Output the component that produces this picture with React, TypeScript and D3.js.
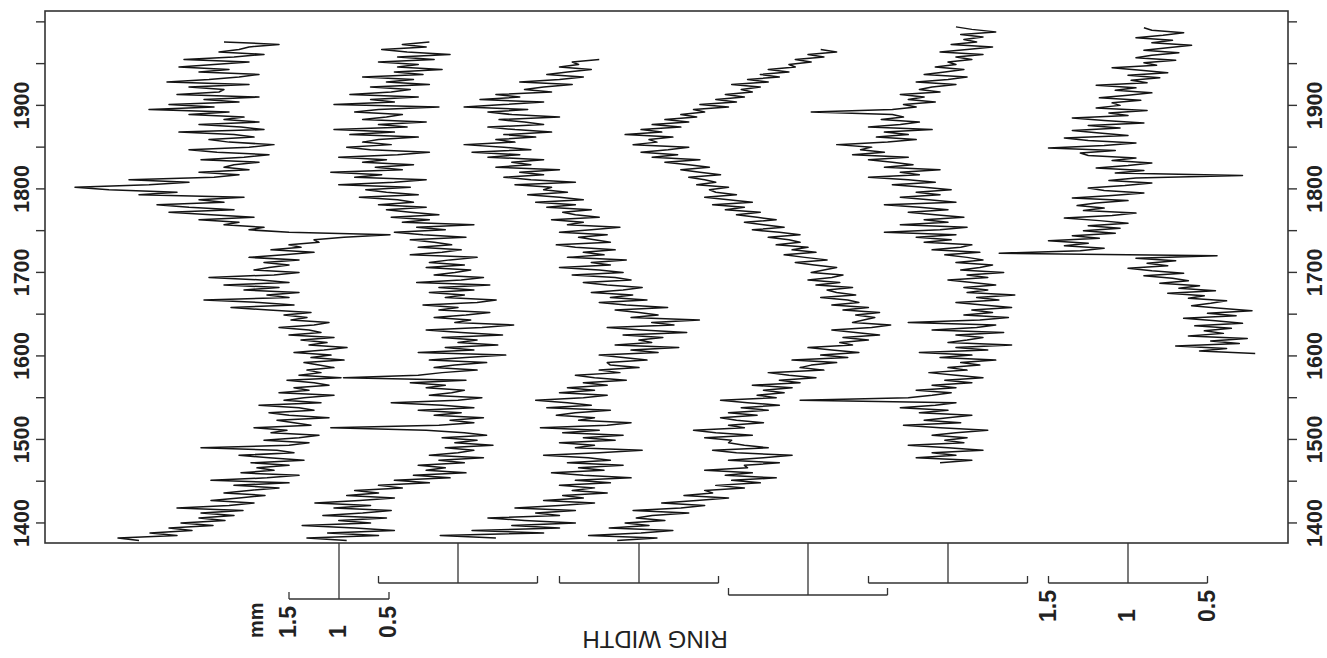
import React from "react";
import * as d3 from "d3";

// ring widths in 0.01 mm, one reading every STEP years
const STEP = 3;

const tree1Start = 1379;
const tree1 = [
  300, 321, 262, 289, 247, 270, 226, 258, 214, 240,
  205, 238, 196, 262, 210, 185, 228, 200, 174, 215,
  190, 160, 205, 150, 228, 172, 140, 198, 165, 182,
  150, 188, 135, 170, 200, 145, 162, 238, 150, 130,
  175, 140, 120, 168, 152, 185, 128, 145, 162, 110,
  150, 170, 125, 140, 180, 118, 155, 135, 105, 160,
  130, 145, 110, 125, 152, 98, 140, 118, 132, 105,
  120, 135, 95, 128, 108, 145, 115, 92, 130, 112,
  138, 105, 150, 118, 130, 160, 125, 110, 148, 132,
  155, 128, 170, 208, 145, 180, 235, 150, 172, 140,
  195, 160, 215, 150, 178, 230, 165, 140, 185, 170,
  150, 175, 140, 190, 155, 125, 168, 138, 150, 120,
  125, 95, 49, 150, 190, 175, 215, 200, 240, 185,
  228, 270, 205, 250, 282, 215, 240, 195, 300, 262,
  330, 364, 290, 250, 310, 225, 200, 240, 190, 215,
  205, 180, 238, 195, 170, 222, 250, 190, 165, 210,
  230, 185, 205, 260, 175, 198, 240, 180, 215, 195,
  250, 210, 290, 225, 270, 200, 235, 180, 262, 220,
  215, 250, 190, 272, 230, 200, 180, 240, 210, 260,
  225, 190, 255, 205, 175, 220, 200, 190, 160, 215,
];

const tree2Start = 1379;
const tree2 = [
  170, 195, 150, 182, 140, 165, 198, 155, 175, 145,
  185, 160, 142, 178, 155, 190, 162, 140, 170, 150,
  165, 135, 150, 118, 140, 105, 128, 95, 120, 108,
  125, 96, 112, 84, 118, 100, 90, 108, 78, 102,
  88, 110, 82, 96, 120, 180, 112, 90, 105, 84,
  115, 98, 125, 90, 110, 142, 100, 85, 118, 104,
  96, 120, 108, 130, 95, 172, 125, 110, 88, 115,
  102, 82, 118, 95, 70, 125, 90, 108, 75, 100,
  88, 110, 72, 98, 120, 85, 65, 102, 92, 115,
  95, 80, 112, 100, 122, 88, 76, 108, 96, 118,
  90, 112, 80, 126, 98, 84, 115, 102, 92, 120,
  96, 118, 105, 88, 130, 110, 98, 125, 104, 115,
  130, 95, 122, 140, 108, 126, 90, 135, 118, 142,
  112, 130, 145, 120, 150, 128, 138, 162, 125, 145,
  158, 130, 175, 140, 120, 165, 148, 180, 135, 152,
  128, 160, 145, 175, 138, 118, 155, 170, 142, 160,
  150, 125, 168, 140, 178, 132, 150, 120, 160, 145,
  135, 165, 150, 112, 178, 140, 155, 125, 168, 142,
  130, 155, 118, 145, 128, 160, 122, 140, 110, 138,
  125, 150, 115, 138, 105, 132, 148, 120, 135, 118,
];

const tree3Start = 1382;
const tree3 = [
  190, 225, 160, 205, 150, 180, 140, 172, 195, 150,
  165, 140, 178, 150, 128, 160, 135, 148, 120, 142,
  128, 150, 118, 140, 105, 135, 155, 122, 138, 110,
  145, 118, 132, 160, 125, 98, 140, 128, 150, 115,
  135, 110, 148, 125, 162, 120, 105, 138, 128, 152,
  140, 118, 158, 130, 145, 165, 135, 120, 150, 128,
  145, 120, 135, 108, 128, 140, 112, 125, 100, 118,
  120, 95, 110, 125, 88, 105, 75, 115, 92, 100,
  85, 110, 70, 98, 120, 78, 92, 62, 105, 88,
  100, 115, 82, 108, 125, 95, 118, 104, 130, 110,
  98, 120, 135, 105, 115, 142, 110, 125, 150, 118,
  130, 108, 145, 122, 135, 115, 140, 152, 118, 128,
  138, 120, 150, 130, 112, 145, 135, 155, 125, 140,
  148, 130, 158, 140, 165, 135, 150, 170, 145, 160,
  155, 178, 140, 168, 185, 160, 175, 150, 190, 168,
  180, 160, 195, 175, 205, 168, 185, 210, 178, 190,
  165, 185, 155, 178, 195, 160, 172, 188, 150, 180,
  195, 170, 210, 185, 160, 200, 175, 190, 155, 172,
  160, 142, 175, 150, 135, 158, 145, 130, 150, 138,
  142, 125,
];

const tree4Start = 1379;
const tree4 = [
  220, 195, 238, 205, 185, 225, 200, 215, 190, 208,
  198, 175, 210, 180, 165, 192, 170, 150, 178, 160,
  165, 140, 158, 130, 148, 120, 152, 135, 165, 138,
  140, 118, 150, 128, 110, 145, 160, 125, 140, 150,
  148, 165, 135, 158, 172, 140, 150, 128, 145, 155,
  132, 150, 125, 142, 118, 138, 155, 120, 132, 115,
  128, 110, 135, 105, 118, 95, 112, 125, 90, 105,
  98, 82, 110, 75, 92, 68, 85, 100, 72, 80,
  62, 78, 55, 70, 85, 60, 48, 72, 65, 58,
  70, 55, 78, 62, 85, 68, 75, 92, 70, 82,
  88, 72, 95, 80, 100, 85, 78, 98, 90, 82,
  96, 108, 88, 102, 115, 95, 110, 100, 120, 105,
  112, 125, 105, 118, 135, 115, 128, 140, 120, 132,
  145, 130, 152, 140, 160, 135, 150, 165, 145, 158,
  162, 150, 170, 158, 165, 175, 155, 168, 180, 162,
  175, 190, 168, 198, 182, 205, 188, 175, 210, 195,
  200, 185, 215, 192, 205, 180, 198, 175, 190, 170,
  180, 165, 172, 150, 168, 145, 158, 140, 152, 135,
  142, 130, 148, 125, 138, 118, 130, 112, 125, 108,
  112, 98, 108, 90, 100, 82, 92,
];

const tree5Start = 1472;
const tree5 = [
  105, 85, 120, 95, 110, 78, 100, 125, 90, 102,
  88, 110, 95, 75, 105, 128, 92, 115, 100, 85,
  118, 100, 130, 108, 95, 193, 125, 110, 98, 120,
  95, 110, 85, 102, 78, 95, 112, 88, 100, 80,
  92, 70, 105, 85, 118, 75, 95, 60, 100, 88,
  78, 95, 65, 110, 82, 70, 125, 80, 62, 90,
  72, 85, 60, 78, 95, 68, 82, 58, 88, 75,
  90, 70, 85, 100, 75, 88, 65, 92, 80, 72,
  95, 78, 88, 102, 80, 110, 92, 85, 115, 98,
  120, 95, 140, 105, 88, 130, 100, 115, 90, 108,
  125, 100, 118, 140, 95, 112, 130, 105, 120, 98,
  115, 135, 108, 125, 150, 118, 130, 105, 140, 122,
  135, 150, 125, 160, 140, 155, 148, 170, 138, 120,
  145, 125, 140, 110, 150, 130, 118, 142, 128, 135,
  186, 135, 120, 128, 108, 125, 115, 130, 105, 118,
  110, 95, 120, 100, 88, 115, 102, 90, 108, 95,
  100, 85, 95, 78, 105, 88, 72, 98, 82, 90,
  78, 92, 70, 85, 95,
];

const tree6Start = 1603;
const tree6 = [
  20, 55, 38, 70, 30, 48, 25, 62, 40, 52,
  35, 58, 28, 45, 65, 32, 50, 22, 42, 60,
  48, 38, 62, 52, 75, 45, 68, 55, 80, 62,
  72, 90, 65, 85, 100, 75, 88, 70, 95, 44,
  181, 130, 115, 140, 125, 150, 118, 135, 108, 128,
  105, 125, 100, 118, 140, 110, 95, 128, 115, 132,
  120, 100, 135, 110, 90, 115, 125, 102, 85, 112,
  95, 28, 108, 90, 120, 100, 85, 110, 95, 125,
  130, 108, 150, 115, 95, 125, 140, 100, 118, 135,
  105, 125, 90, 115, 135, 100, 112, 88, 120, 105,
  110, 92, 118, 100, 85, 108, 95, 120, 88, 98,
  80, 100, 75, 92, 110, 82, 90, 70, 95, 85,
  68, 90, 75, 60, 85, 72, 95, 78, 65, 85,
  90,
];

const yearTicks = [1400, 1450, 1500, 1550, 1600, 1650, 1700, 1750, 1800, 1850, 1900, 1950, 2000];
const yearLabels = [1400, 1500, 1600, 1700, 1800, 1900];
const widthTicks = [1.5, 1, 0.5];
const widthTickLabels = ["1.5", "1", "0.5"];

const trees = [
  { start: tree1Start, values: tree1 },
  { start: tree2Start, values: tree2 },
  { start: tree3Start, values: tree3 },
  { start: tree4Start, values: tree4 },
  { start: tree5Start, values: tree5 },
  { start: tree6Start, values: tree6 },
];

// where each tree's 1 mm mark sits, px per mm, and the y of its scale bar
const layout = [
  { center: 339, pxPerMm: 100, barY: 599, labels: true, unit: true },
  { center: 458, pxPerMm: 159, barY: 583 },
  { center: 639, pxPerMm: 159, barY: 583 },
  { center: 808, pxPerMm: 159, barY: 595 },
  { center: 948, pxPerMm: 159, barY: 583 },
  { center: 1128, pxPerMm: 159, barY: 583, labels: true },
];

const W = 1327;
const H = 658;
const box = { left: 45, right: 1288, top: 11, bottom: 543 };
const ink = "#141414";
const font = "'Liberation Sans', Arial, Helvetica, sans-serif";

function App() {
  const y = d3.scaleLinear().domain([1376, 2013]).range([box.bottom, box.top]);

  const scales = layout.map((l) =>
    d3
      .scaleLinear()
      .domain([0.5, 1.5])
      .range([l.center + l.pxPerMm / 2, l.center - l.pxPerMm / 2])
  );

  return (
    <svg
      width={W}
      height={H}
      style={{ position: "absolute", left: 0, top: 0, background: "#fff" }}
    >
      <rect width={W} height={H} fill="#fff" />

      {/* ring width series */}
      {trees.map((t, i) => {
        const x = scales[i];
        const line = d3
          .line<number>()
          .x((d) => x(d / 100))
          .y((d, k) => y(t.start + k * STEP));
        return (
          <path
            key={"tree" + i}
            d={line(t.values) || ""}
            fill="none"
            stroke={ink}
            strokeWidth={1.5}
            strokeLinejoin="round"
          />
        );
      })}

      {/* frame */}
      <rect
        x={box.left}
        y={box.top}
        width={box.right - box.left}
        height={box.bottom - box.top}
        fill="none"
        stroke="#333"
        strokeWidth={1.6}
      />

      {/* year axes on both sides */}
      {yearTicks.map((yr) => (
        <g key={"t" + yr}>
          <line x1={box.left} x2={box.left - 9} y1={y(yr)} y2={y(yr)} stroke="#333" strokeWidth={1.4} />
          <line x1={box.right} x2={box.right + 9} y1={y(yr)} y2={y(yr)} stroke="#333" strokeWidth={1.4} />
        </g>
      ))}
      {yearLabels.map((yr) => (
        <g key={"l" + yr} fontFamily={font} fontWeight="bold" fontSize={21.5} fill="#222">
          <text
            transform={`translate(22,${y(yr)}) rotate(-90)`}
            textAnchor="middle"
            dominantBaseline="central"
          >
            {yr}
          </text>
          <text
            transform={`translate(1315,${y(yr)}) rotate(-90)`}
            textAnchor="middle"
            dominantBaseline="central"
          >
            {yr}
          </text>
        </g>
      ))}

      {/* scale bars under each tree */}
      {layout.map((l, i) => {
        const x = scales[i];
        const a = x(1.5);
        const b = x(0.5);
        return (
          <g key={"bar" + i} stroke="#333" strokeWidth={1.3} fill="none">
            <line x1={x(1)} x2={x(1)} y1={box.bottom} y2={l.barY} />
            <line x1={a} x2={b} y1={l.barY} y2={l.barY} />
            <line x1={a} x2={a} y1={l.barY} y2={l.barY - 7} />
            <line x1={b} x2={b} y1={l.barY} y2={l.barY - 7} />
          </g>
        );
      })}
      {layout.map((l, i) =>
        l.labels ? (
          <g key={"bl" + i} fontFamily={font} fontWeight="bold" fontSize={23} fill="#222">
            {widthTicks.map((v, k) => (
              <text
                key={k}
                transform={`translate(${scales[i](v) - 1},${l.barY + 39}) rotate(-90)`}
                textAnchor="start"
                dominantBaseline="central"
              >
                {widthTickLabels[k]}
              </text>
            ))}
            {l.unit ? (
              <text
                transform={`translate(${scales[i](1.5) - 33},${l.barY + 39}) rotate(-90)`}
                textAnchor="start"
                dominantBaseline="central"
                fontSize={20}
              >
                mm
              </text>
            ) : null}
          </g>
        ) : null
      )}

      <text
        transform="translate(655,639) rotate(180)"
        textAnchor="middle"
        dominantBaseline="central"
        fontFamily={font}
        fontSize={24}
        fill="#222"
      >
        RING WIDTH
      </text>
    </svg>
  );
}

export default App;
